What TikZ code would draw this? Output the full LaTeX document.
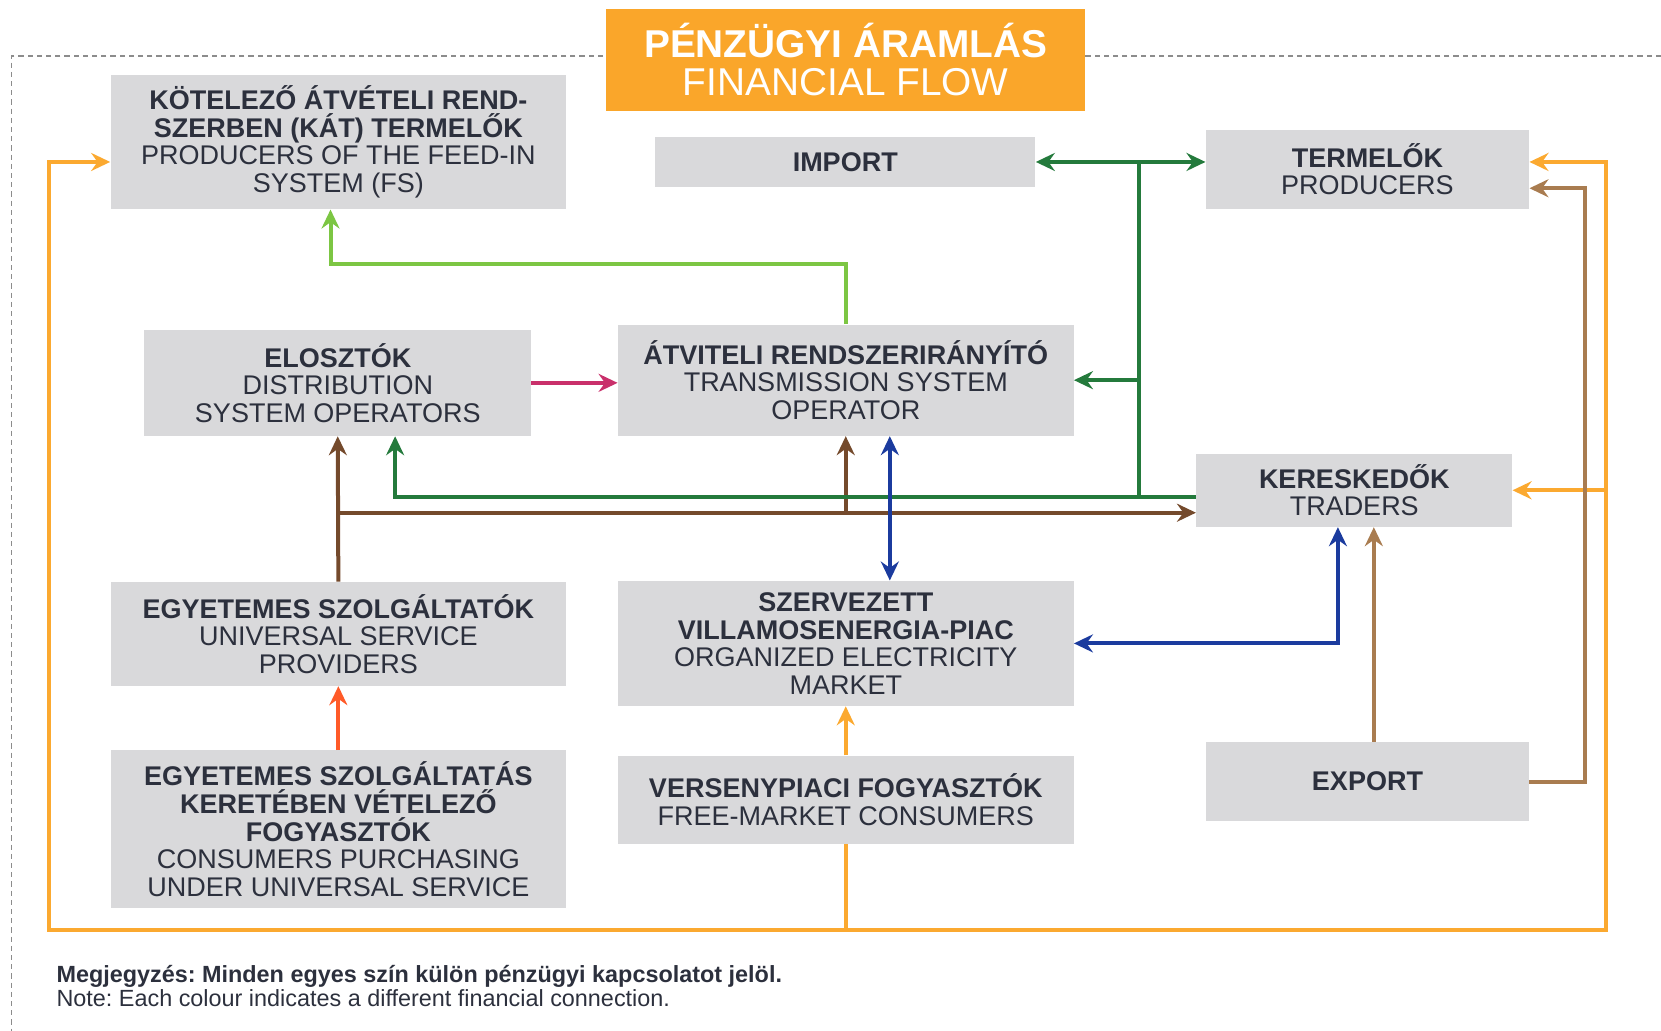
\documentclass[tikz,border=0pt]{standalone}
\usepackage{fontspec}
\setmainfont{Liberation Sans}
\usetikzlibrary{positioning, arrows.meta, calc}
\frenchspacing

\begin{document}
\begin{tikzpicture}[
    x=0.5297pt, y=-0.5297pt,
    font=\fontsize{13.5}{13.8}\selectfont,
    >={Stealth[length=9.5pt,width=9pt,inset=3.2pt]},
    every path/.style={line cap=butt},
]
% ── Colours ──
\definecolor{boxbg}{HTML}{D9D9DB}
\definecolor{textc}{HTML}{2C303D}
\definecolor{framec}{HTML}{8C8C8C}
\definecolor{orng}{HTML}{FBA930}
\definecolor{titlebg}{HTML}{FAA62A}
\definecolor{redor}{HTML}{FF5A28}
\definecolor{dbrown}{HTML}{744A2C}
\definecolor{lbrown}{HTML}{A97C50}
\definecolor{dgreen}{HTML}{247A3C}
\definecolor{lgreen}{HTML}{7CC643}
\definecolor{magen}{HTML}{C9306B}
\definecolor{navy}{HTML}{1B3B9E}

% ── Styles ──
\tikzset{
    unit/.style={
        rectangle, fill=boxbg, text=textc,
        align=center, inner sep=0pt, anchor=north west,
    },
    title-box/.style={
        unit, fill=titlebg, text=white,
        font=\fontsize{19.4}{19.1}\selectfont,
    },
    flow/.style={->, line width=2pt},
    wire/.style={line width=2pt},
    o-flow/.style={flow, draw=orng},
    o-wire/.style={wire, draw=orng},
    r-flow/.style={flow, draw=redor},
    db-flow/.style={flow, draw=dbrown},
    db-wire/.style={wire, draw=dbrown},
    lb-flow/.style={flow, draw=lbrown},
    dg-flow/.style={flow, draw=dgreen},
    dg-wire/.style={wire, draw=dgreen},
    lg-flow/.style={flow, draw=lgreen},
    m-flow/.style={flow, draw=magen},
    n-flow/.style={flow, draw=navy},
    border-line/.style={draw=framec, line width=0.8pt, dash pattern=on 2.6pt off 2pt},
    note/.style={
        anchor=west, align=left, text=textc, inner sep=0pt,
        font=\fontsize{11.7}{12.2}\selectfont,
    },
}

\useasboundingbox (0,0) rectangle (1568,973);

% ── Dashed frame (title box sits on top) ──
\draw[border-line] (1568,53) -| (11,973);

% ── Title ──
\node[title-box, minimum width=239.4pt, minimum height=50.9pt] (title) at (572,8)
    {\textbf{PÉNZÜGYI ÁRAMLÁS}\\ FINANCIAL FLOW};

% ── Top row ──
\node[unit, minimum width=227.8pt, minimum height=67.3pt] (kat) at (104,70)
    {\textbf{KÖTELEZŐ ÁTVÉTELI REND-}\\ \textbf{SZERBEN (KÁT) TERMELŐK}\\
     PRODUCERS OF THE FEED-IN\\ SYSTEM (FS)};
\node[unit, minimum width=190.2pt, minimum height=24.9pt] (imp) at (618,129)
    {\textbf{IMPORT}};
\node[unit, minimum width=161.6pt, minimum height=39.7pt] (prod) at (1138,122)
    {\textbf{TERMELŐK}\\ PRODUCERS};

% ── Middle row ──
\node[unit, minimum width=193.3pt, minimum height=53.0pt] (dso) at (136,311)
    {\textbf{ELOSZTÓK}\\ DISTRIBUTION\\ SYSTEM OPERATORS};
\node[unit, minimum width=227.8pt, minimum height=55.6pt] (tso) at (583,306)
    {\textbf{ÁTVITELI RENDSZERIRÁNYÍTÓ}\\ TRANSMISSION SYSTEM\\ OPERATOR};
\node[unit, minimum width=157.9pt, minimum height=36.5pt] (trad) at (1129,428)
    {\textbf{KERESKEDŐK}\\ TRADERS};

% ── Lower rows ──
\node[unit, minimum width=227.8pt, minimum height=51.9pt] (usp) at (104,549)
    {\textbf{EGYETEMES SZOLGÁLTATÓK}\\ UNIVERSAL SERVICE\\ PROVIDERS};
\node[unit, minimum width=227.8pt, minimum height=62.5pt] (mkt) at (583,548)
    {\textbf{SZERVEZETT}\\ \textbf{VILLAMOSENERGIA-PIAC}\\
     ORGANIZED ELECTRICITY\\ MARKET};
\node[unit, minimum width=227.8pt, minimum height=78.9pt] (ucons) at (104,708)
    {\textbf{EGYETEMES SZOLGÁLTATÁS}\\ \textbf{KERETÉBEN VÉTELEZŐ}\\
     \textbf{FOGYASZTÓK}\\ CONSUMERS PURCHASING\\ UNDER UNIVERSAL SERVICE};
\node[unit, minimum width=227.8pt, minimum height=44.0pt] (fcons) at (583,713)
    {\textbf{VERSENYPIACI FOGYASZTÓK}\\ FREE-MARKET CONSUMERS};
\node[unit, minimum width=161.6pt, minimum height=39.7pt] (exp) at (1138,700)
    {\textbf{EXPORT}};

% ── Helper points ──
\coordinate (loopbl) at (46,878);
\coordinate (loopbr) at (1516,878);
\coordinate (brj) at (319,484);
\coordinate (grj) at (1075,469);
\coordinate (lgj) at (312,249);
\path ($(exp.north)+(6,0)$) coordinate (expup);

% ── Orange: consumers loop ──
\draw[o-flow] (fcons.south) |- (loopbl) |- (kat.west |- imp);
\draw[o-flow] (fcons.south) |- (loopbr) |- (prod.east |- imp);
\draw[o-flow] (loopbr |- trad) -- (trad.east);
\draw[o-flow] (fcons.north) -- (mkt.south);

% ── Red-orange ──
\draw[r-flow] (ucons.north) -- (usp.south);

% ── Dark brown ──
\draw[db-flow] (usp.north) -- (dso.south);
\draw[db-flow] (brj) -- (trad.west |- brj);
\draw[db-flow] (tso.south |- brj) -- (tso.south);

% ── Dark green ──
\draw[dg-flow] (trad.west |- grj) -| ($(dso.south west)+(237,0)$);
\draw[dg-wire] (grj) -- (grj |- imp);
\draw[dg-flow, <->] (imp.east) -- (prod.west |- imp);
\draw[dg-flow] (grj |- tso) -- (tso.east);

% ── Light green ──
\draw[lg-flow] (tso.north) |- (lgj) -- (lgj |- kat.south);

% ── Magenta ──
\draw[m-flow] (dso.east) -- (tso.west |- dso.east);

% ── Navy ──
\draw[n-flow, <->] ($(tso.south west)+(257,0)$) -- ($(mkt.north west)+(257,0)$);
\draw[n-flow, <->] (mkt.east) -| ($(trad.south west)+(134,0)$);

% ── Light brown ──
\draw[lb-flow] (expup) -- (expup |- trad.south);
\draw[lb-flow] (exp.east) -- ++(52,0) |- ($(prod.south east)+(0,-20)$);

% ── Note ──
\node[note] (notes) at (53,931)
    {\textbf{Megjegyzés: Minden egyes szín külön pénzügyi kapcsolatot jelöl.}\\
     Note: Each colour indicates a different financial connection.};

\end{tikzpicture}
\end{document}
